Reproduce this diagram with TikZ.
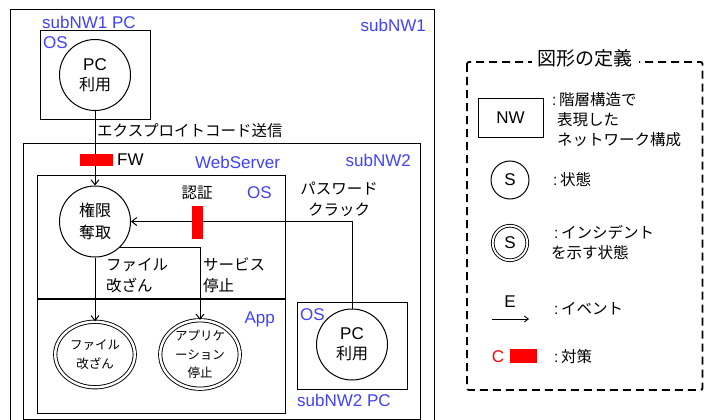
\documentclass[tikz,border=0pt]{standalone}
\usepackage{fontspec}
\setmainfont{Liberation Sans}
\newfontfamily\jp{Noto Sans CJK JP}
\usetikzlibrary{shapes.geometric,arrows.meta}
\definecolor{nwblue}{RGB}{64,64,255}
\definecolor{cred}{RGB}{255,0,0}
\begin{document}
\begin{tikzpicture}[x=1pt,y=-1pt,
  box/.style={draw,line width=1pt},
  lat/.style={font=\fontsize{17}{20}\selectfont},
  jpl/.style={font=\jp\fontsize{15.5}{21}\selectfont},
  bluelbl/.style={lat,text=nwblue,inner sep=1pt},
  state/.style={draw,line width=1pt,circle,minimum size=71pt,inner sep=0pt,align=center},
  incident/.style={draw,line width=0.9pt,double,double distance=2.4pt,ellipse,minimum width=79.5pt,minimum height=65.5pt,inner sep=0pt,align=center,font=\jp\fontsize{12.5}{18.5}\selectfont},
  cbar/.style={fill=cred,draw=none,inner sep=0pt},
  arr/.style={line width=1pt,-{Straight Barb[length=5pt,width=8pt]}},
  conn/.style={line width=1pt}
]
\useasboundingbox (0,0) rectangle (704,420);

% ---------- subNW1 ----------
\draw[box] (10,10) rectangle (434,440);
\node[bluelbl,anchor=east] (lsub1) at (427,25) {subNW1};

% subNW1 PC
\draw[box] (40,31) rectangle (150,119);
\node[bluelbl,anchor=west] (lpc1) at (41,22) {subNW1 PC};
\node[bluelbl,anchor=west] (los1) at (42,43) {OS};
\node[state,lat] (pc1) at (95,75) {PC\\{\jp\fontsize{16}{20}\selectfont 利用}};

\node[jpl,anchor=west,inner sep=1pt] (exploit) at (96,131) {エクスプロイトコード送信};

% ---------- subNW2 ----------
\draw[box] (23,143) rectangle (420,419);
\node[bluelbl,anchor=east] (lsub2) at (412,160) {subNW2};
\node[bluelbl,anchor=west] (lweb) at (194,162) {WebServer};

% WebServer box
\draw[box] (37,175) rectangle (285,413);
\draw[line width=1.6pt] (37,299) -- (285,299);
\node[bluelbl,anchor=east] (los2) at (273,193) {OS};
\node[bluelbl,anchor=east] (lapp) at (276,319) {App};

\node[state,font=\jp\fontsize{16}{22}\selectfont] (kengen) at (95,221.5) {権限\\奪取};

\node[incident] (file) at (95,354.5) {ファイル\\改ざん};
\node[incident] (app) at (200,354.5) {アプリケ\\ーション\\停止};

% subNW2 PC
\draw[box] (297,302) rectangle (407,389);
\node[bluelbl,anchor=west] (los3) at (299,315) {OS};
\node[bluelbl,anchor=west] (lpc2) at (296,400) {subNW2 PC};
\node[state,lat] (pc2) at (352,344.5) {PC\\{\jp\fontsize{16}{20}\selectfont 利用}};

% connectors
\draw[arr] (pc1.south) -- (kengen.north);
\draw[arr] (pc2.north) |- (kengen.east);
\draw[arr] (kengen.south) -- (file.north);
\draw[arr] (kengen.-46) -| (app.north);

% countermeasures
\node[cbar,minimum width=33pt,minimum height=12pt] (fw) at (96.5,160) {};
\node[lat,anchor=west,inner sep=1pt] (lfw) at (116,160) {FW};
\node[cbar,minimum width=11pt,minimum height=33pt] (auth) at (197.5,222.5) {};
\node[jpl,inner sep=1pt] (lauth) at (197,193) {認証};

% event labels
\node[jpl,align=center,inner sep=1pt] (lpass) at (339,199) {パスワード\\クラック};
\node[jpl,align=left,anchor=west,inner sep=1pt] (lfile) at (105,275.5) {ファイル\\改ざん};
\node[jpl,align=left,anchor=west,inner sep=1pt] (lstop) at (202,275.5) {サービス\\停止};

% ---------- legend ----------
\draw[line width=1.8pt,dash pattern=on 8pt off 5pt,rounded corners=2pt] (467,62) rectangle (702.5,390);
\node[fill=white,font=\jp\fontsize{19}{22}\selectfont,inner xsep=6pt,inner ysep=2pt] (ltitle) at (585,58) {図形の定義};

\node[draw,line width=1pt,minimum width=65pt,minimum height=39pt,inner sep=0pt,lat] (lnw) at (510.5,117.5) {NW};
\node[anchor=west,inner sep=0pt,font=\fontsize{15.5}{20}\selectfont] (tnw1) at (552,100) {:\,{\jp 階層構造で}};
\node[jpl,anchor=west,inner sep=0pt] (tnw2) at (557,120) {表現した};
\node[jpl,anchor=west,inner sep=0pt] (tnw3) at (557,140) {ネットワーク構成};

\node[draw,line width=1pt,circle,minimum size=38pt,inner sep=0pt,lat] (ls) at (510,180) {S};
\node[anchor=west,inner sep=0pt,font=\fontsize{15.5}{20}\selectfont] (ts) at (553,180) {:\,{\jp 状態}};

\node[draw,line width=0.9pt,double,double distance=1.8pt,circle,minimum size=34.5pt,inner sep=0pt,lat] (lis) at (510,243) {S};
\node[anchor=west,inner sep=0pt,font=\fontsize{15.5}{20}\selectfont] (tis1) at (554,232) {:\,{\jp インシデント}};
\node[jpl,anchor=west,inner sep=0pt] (tis2) at (551,253) {を示す状態};

\coordinate (ea) at (492,319);
\coordinate (eb) at (529,319);
\draw[line width=0.9pt,-{Straight Barb[length=4pt,width=6pt]}] (ea) -- (eb);
\node[lat,inner sep=0pt] (le) at (510,302) {E};
\node[anchor=west,inner sep=0pt,font=\fontsize{15.5}{20}\selectfont] (te) at (554,309) {:\,{\jp イベント}};

\node[lat,text=cred,inner sep=0pt] (lc) at (498,357) {C};
\node[cbar,minimum width=27pt,minimum height=14pt] (lcbar) at (523.5,356) {};
\node[anchor=west,inner sep=0pt,font=\fontsize{15.5}{20}\selectfont] (tc) at (554,357) {:\,{\jp 対策}};
\end{tikzpicture}
\end{document}
